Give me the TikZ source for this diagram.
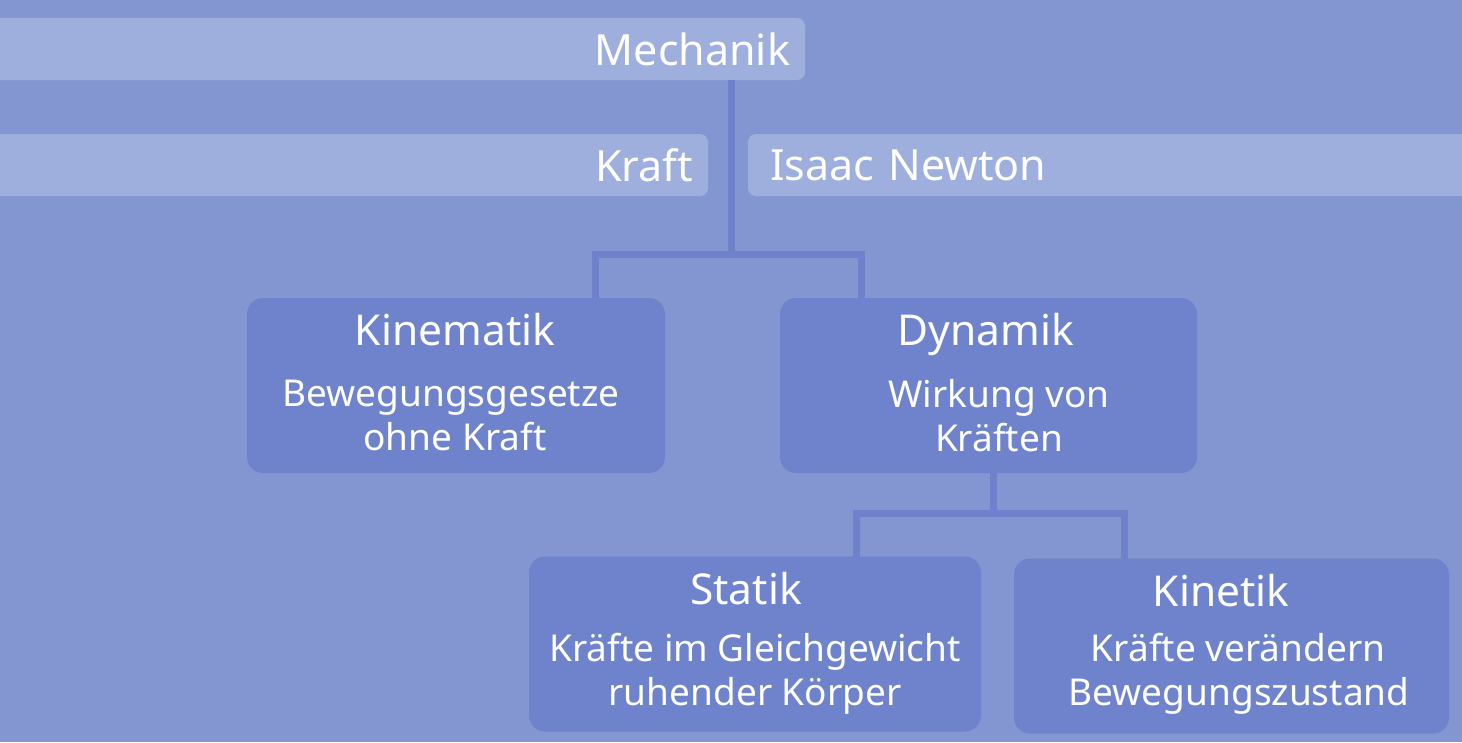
\documentclass[tikz,border=0pt]{standalone}
\usepackage{fontspec}
\setmainfont{Noto Sans}
\definecolor{bgc}{HTML}{8396D2}
\definecolor{barc}{HTML}{9EAFDD}
\definecolor{boxc}{HTML}{6F83CC}
\definecolor{linec}{HTML}{6E81CA}
\tikzset{
  bar/.style={fill=barc, rounded corners=8pt, minimum height=62pt, inner xsep=0pt, inner ysep=0pt, text=white, font=\fontsize{43}{50}\selectfont},
  card/.style={fill=boxc, rounded corners=16pt, minimum width=#1, minimum height=175pt, inner sep=0pt},
  ttl/.style={anchor=base, text=white, inner sep=0pt, font=\fontsize{42.5}{50}\selectfont},
  sub/.style={anchor=base, text=white, inner sep=0pt, font=\fontsize{37}{44}\selectfont},
  conn/.style={draw=linec, line width=7pt}
}
\begin{document}
\begin{tikzpicture}[x=1pt,y=-1pt]
\useasboundingbox (0,0) rectangle (1462,742);
\fill[bgc] (0,0) rectangle (1462,742);

% bars
\node[bar, minimum width=825pt, text width=795pt, align=right] (mech) at (392.5,49) {Mechanik};
\node[bar, minimum width=728pt, text width=698pt, align=right] (kraft) at (344,165) {Kraft};
\node[bar, minimum width=734pt, text width=712pt, align=left] (newton) at (1115,165) {\hspace*{11pt}Isaac Newton};

% cards
\node[card=418pt] (kin) at (456,385.5) {};
\node[card=417pt] (dyn) at (988.5,385.5) {};
\node[card=452pt] (stat) at (755,644) {};
\node[card=435pt] (kinet) at (1231.5,646) {};

% connector coordinates
\coordinate (j1) at (731,254);
\coordinate (l1) at (595,254);
\coordinate (r1) at (861,254);
\coordinate (j2) at (993,513);
\coordinate (l2) at (856,513);
\coordinate (r2) at (1124,513);

\draw[conn] (mech.south -| j1) -- (j1);
\draw[conn, line cap=rect] (kin.north -| l1) -- (l1) -- (r1) -- (dyn.north -| r1);
\draw[conn] (dyn.south -| j2) -- (j2);
\draw[conn, line cap=rect] (stat.north -| l2) -- (l2) -- (r2) -- (kinet.north -| r2);
\fill[boxc] (kin.north -| l1) ++(-4,0) rectangle ++(8,6);
\fill[boxc] (dyn.north -| r1) ++(-4,0) rectangle ++(8,6);
\fill[boxc] (stat.north -| l2) ++(-4,0) rectangle ++(8,6);
\fill[boxc] (kinet.north -| r2) ++(-4,0) rectangle ++(8,6);

% texts
\node[ttl] (kinT) at (455,345) {Kinematik};
\node[sub] (kinS1) at (451,406) {Bewegungsgesetze};
\node[sub] (kinS2) at (455,450) {ohne Kraft};

\node[ttl] (dynT) at (986,345) {Dynamik};
\node[sub] (dynS1) at (999,407) {Wirkung von};
\node[sub] (dynS2) at (999,451) {Kräften};

\node[ttl] (statT) at (746,604) {Statik};
\node[sub] (statS1) at (755,661) {Kräfte im Gleichgewicht};
\node[sub] (statS2) at (755,705) {ruhender Körper};

\node[ttl] (kinetT) at (1221,606) {Kinetik};
\node[sub] (kinetS1) at (1238,661) {Kräfte verändern};
\node[sub] (kinetS2) at (1239,705) {Bewegungszustand};
\end{tikzpicture}
\end{document}
